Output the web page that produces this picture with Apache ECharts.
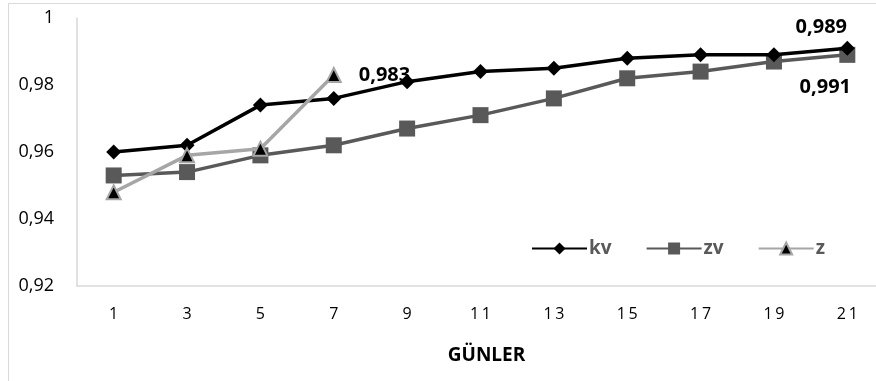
<!DOCTYPE html>
<html><head><meta charset="utf-8">
<script src="https://cdn.jsdelivr.net/npm/echarts@6/dist/echarts.min.js"></script>
<style>html,body{margin:0;padding:0;background:#fff}#c{width:876px;height:381px}</style>
</head><body><div id="c"></div>
<script>
const categories = ['1','3','5','7','9','11','13','15','17','19','21'];
const kv = [0.960,0.962,0.974,0.976,0.981,0.984,0.985,0.988,0.989,0.989,0.991];
const zv = [0.953,0.954,0.959,0.962,0.967,0.971,0.976,0.982,0.984,0.987,0.989];
const z  = [0.948,0.959,0.961,0.983];
const yTicks = ['0,92','0,94','0,96','0,98','1'];
const xTitle = 'GÜNLER';
const kvEndLabel = '0,989';
const zvEndLabel = '0,991';
const zEndLabel = '0,983';

const FONT = '"Open Sans", "Noto Sans", sans-serif';
const chart = echarts.init(document.getElementById('c'), null, {renderer:'canvas'});
const last = categories.length - 1;
function withLabel(arr, idx, text, pos, off){
  return arr.map((v,i)=> i===idx ? {value:v, label:{show:true, formatter:text, position:pos, offset:off||[0,0],
    fontFamily:FONT, fontWeight:'bold', fontSize:20, color:'#000'}} : v);
}
chart.setOption({
  animation:false,
  graphic:[{type:'rect', shape:{x:8.5,y:3.5,width:900,height:400}, style:{fill:'none', stroke:'#d9d9d9', lineWidth:1}, z:-1}],
  grid:{left:77, width:807, top:18, bottom:95, outerBoundsMode:'none', containLabel:false},
  legend:{
    data:['kv','zv','z'], left:526, top:234, itemWidth:55, itemHeight:15, itemGap:34,
    textStyle:{fontFamily:FONT, fontWeight:'bold', fontSize:19, color:'#595959', padding:[0,0,0,-3]}
  },
  xAxis:{
    type:'category', data:categories, boundaryGap:true,
    name:xTitle, nameLocation:'middle', nameGap:60,
    nameTextStyle:{fontFamily:FONT, fontWeight:'bold', fontSize:19, color:'#000', padding:[0,0,0,12]},
    axisLine:{lineStyle:{color:'#d9d9d9', width:1.5}}, axisTick:{show:false},
    axisLabel:{fontFamily:FONT, fontSize:16, color:'#000', margin:20,
      formatter:v=>v.split('').join('\u2009')}
  },
  yAxis:{
    type:'value', min:0.92, max:1, interval:0.02,
    splitLine:{show:false}, axisTick:{show:false},
    axisLine:{show:true, lineStyle:{color:'#d9d9d9', width:1.5}},
    axisLabel:{fontFamily:FONT, fontSize:18, color:'#000', margin:23,
      formatter:(v)=>{const i=Math.round((v-0.92)/0.02); return yTicks[i];}}
  },
  series:[
    {name:'kv', type:'line', data:withLabel(kv,last,kvEndLabel,'top',[-26,2]), symbol:'diamond', symbolSize:15,
      lineStyle:{color:'#000', width:3.5}, itemStyle:{color:'#000'}, z:3},
    {name:'zv', type:'line', data:withLabel(zv,last,zvEndLabel,'bottom',[-22,9]), symbol:'rect', symbolSize:16,
      lineStyle:{color:'#595959', width:3.5}, itemStyle:{color:'#595959'}, z:2},
    {name:'z', type:'line', data:withLabel(z,3,zEndLabel,'right',[12,0]), symbol:'triangle', symbolSize:14,
      lineStyle:{color:'#a6a6a6', width:3.5}, itemStyle:{color:'#000', borderColor:'#a6a6a6', borderWidth:2}, z:4}
  ]
});
</script></body></html>
